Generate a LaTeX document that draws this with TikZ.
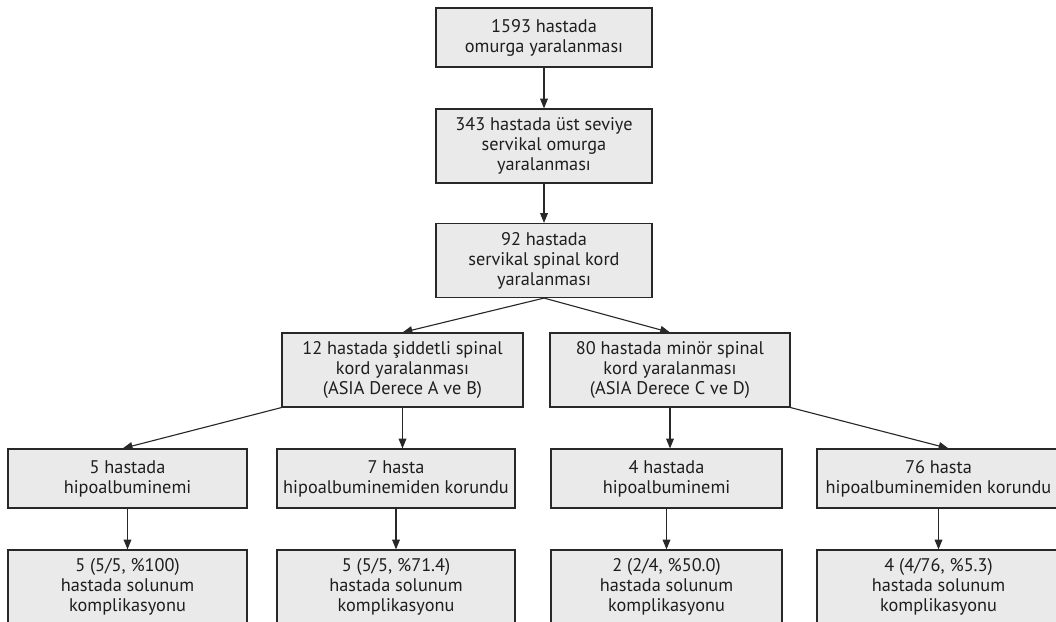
\documentclass[tikz,border=0pt]{standalone}
\usepackage{fontspec}
\setmainfont{PT Sans}
\usetikzlibrary{arrows.meta}
\definecolor{boxfill}{RGB}{234,234,234}
\definecolor{boxline}{RGB}{40,40,40}
\definecolor{boxtext}{RGB}{30,30,30}

\begin{document}
\begin{tikzpicture}[x=0.025cm,y=0.025cm,
  box/.style={draw=boxline,fill=boxfill,line width=0.8pt,align=center,
    text=boxtext,inner sep=2pt,minimum width=#1,
    font=\fontsize{13}{14.2}\selectfont},
  low/.style={minimum height=1.475cm},
  high/.style={minimum height=1.85cm},
  arr/.style={draw=boxline,line width=0.8pt,-{Triangle[length=7pt,width=5.5pt]}}]
  \clip (0,0) rectangle (1056,621);
  \node [box=5.4cm,low]  (b1) at (544,583.5) {1593 hastada\\omurga yaralanması};
  \node [box=5.4cm,high] (b2) at (544,475) {343 hastada üst seviye\\servikal omurga\\yaralanması};
  \node [box=5.4cm,high] (b3) at (544,360.5) {92 hastada\\servikal spinal kord\\yaralanması};
  \node [box=6.025cm,high] (bl) at (402.5,251) {12 hastada şiddetli spinal\\kord yaralanması\\(ASIA Derece A ve B)};
  \node [box=6.0cm,high] (br) at (670,251) {80 hastada minör spinal\\kord yaralanması\\(ASIA Derece C ve D)};
  \node [box=5.975cm,low] (c1) at (127.5,142.5) {5 hastada\\hipoalbuminemi};
  \node [box=5.95cm,low]  (c2) at (396,142.5) {7 hasta\\hipoalbuminemiden korundu};
  \node [box=5.775cm,low] (c3) at (666.5,142.5) {4 hastada\\hipoalbuminemi};
  \node [box=6.075cm,low] (c4) at (938.5,142.5) {76 hasta\\hipoalbuminemiden korundu};
  \node [box=5.975cm,high] (d1) at (127.5,34) {5 (5/5, \%100)\\hastada solunum\\komplikasyonu};
  \node [box=5.95cm,high]  (d2) at (396,34) {5 (5/5, \%71.4)\\hastada solunum\\komplikasyonu};
  \node [box=5.775cm,high] (d3) at (666.5,34) {2 (2/4, \%50.0)\\hastada solunum\\komplikasyonu};
  \node [box=6.075cm,high] (d4) at (938.5,34) {4 (4/76, \%5.3)\\hastada solunum\\komplikasyonu};
  \draw [arr] (b1.south) -- (b2.north);
  \draw [arr] (b2.south) -- (b3.north);
  \draw [arr] (b3.south) -- (bl.north);
  \draw [arr] (b3.south) -- (br.north);
  \draw [arr] (bl.south west) -- ([xshift=-0.12cm]c1.north);
  \draw [arr] (bl.south) -- (bl.south |- c2.north);
  \draw [arr] (br.south) -- (br.south |- c3.north);
  \draw [arr] (br.south east) -- ([xshift=0.25cm]c4.north);
  \foreach \i in {1,...,4}
    \draw [arr] (c\i.south) -- (d\i.north);
\end{tikzpicture}
\end{document}
